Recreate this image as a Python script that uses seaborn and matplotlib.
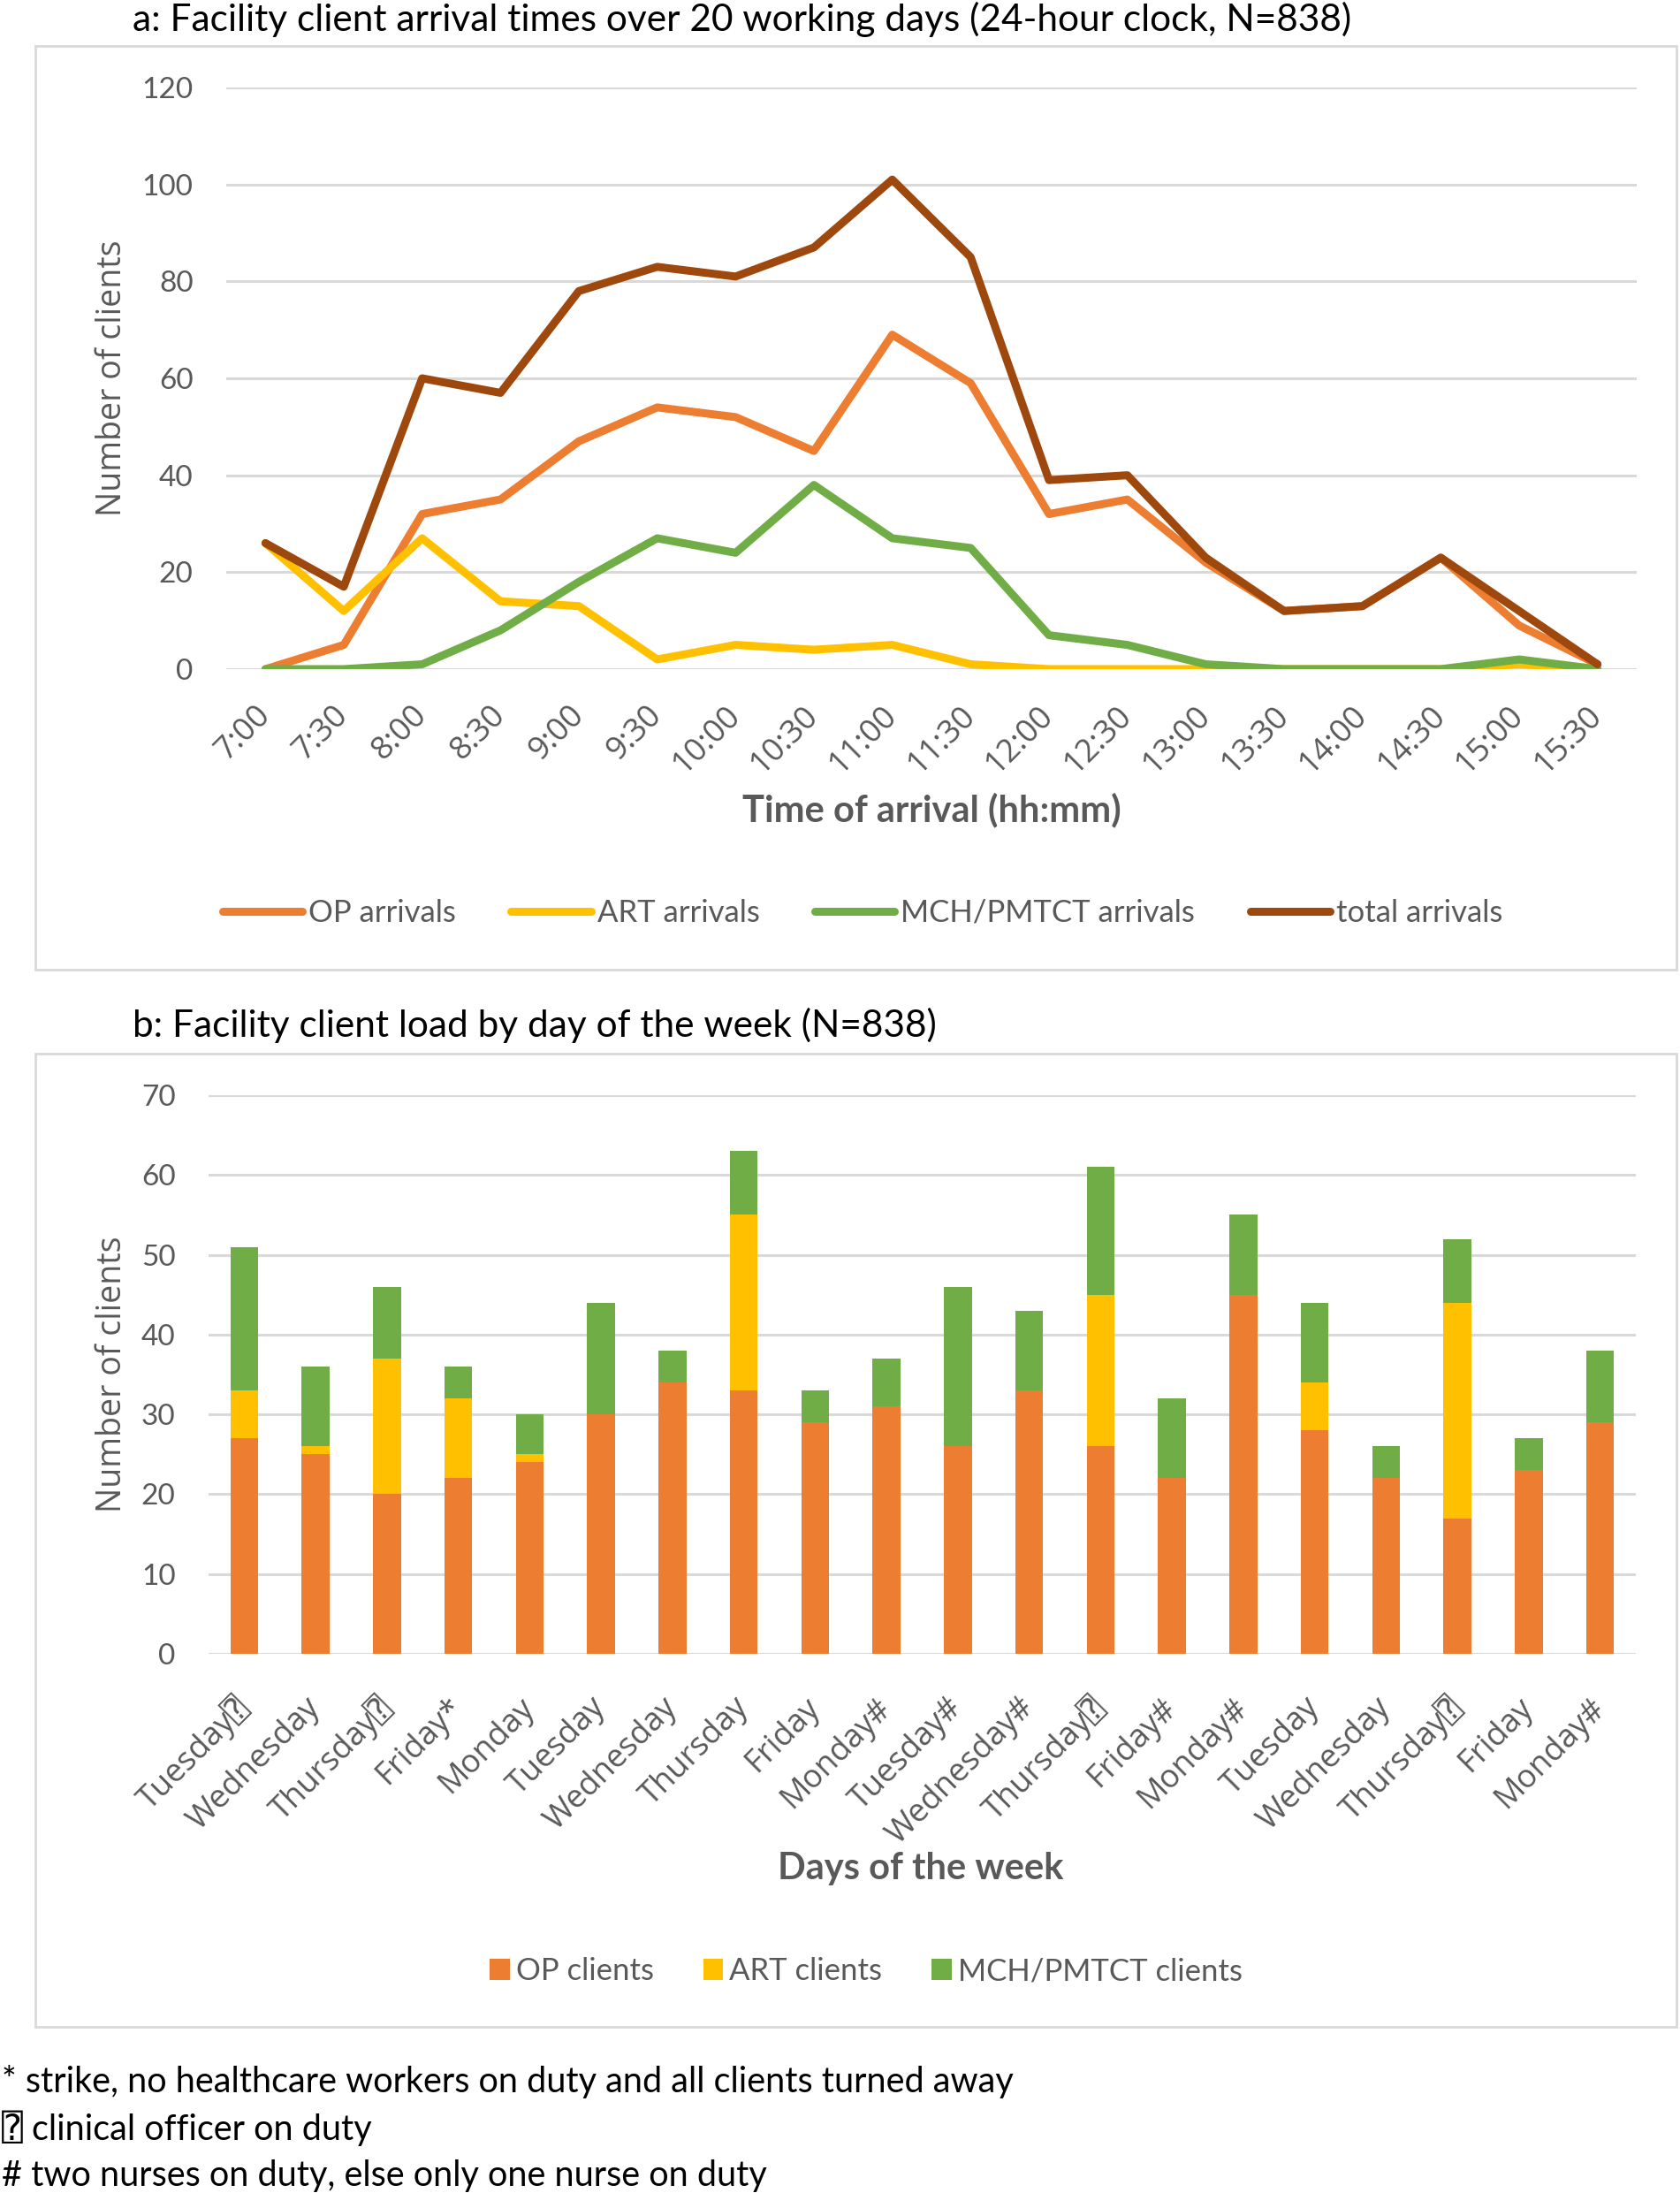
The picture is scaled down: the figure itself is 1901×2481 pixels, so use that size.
import pandas as pd
import matplotlib
matplotlib.use("Agg")
import matplotlib.pyplot as plt
import seaborn as sns
from matplotlib.lines import Line2D
from matplotlib.patches import Patch, Rectangle

# Panel a: arrivals per half hour
times = ['7:00', '7:30', '8:00', '8:30', '9:00', '9:30', '10:00', '10:30', '11:00',
         '11:30', '12:00', '12:30', '13:00', '13:30', '14:00', '14:30', '15:00', '15:30']
op_arrivals = [0, 5, 32, 35, 47, 54, 52, 45, 69, 59, 32, 35, 22, 12, 13, 23, 9, 1]
art_arrivals = [26, 12, 27, 14, 13, 2, 5, 4, 5, 1, 0, 0, 0, 0, 0, 0, 1, 0]
mch_arrivals = [0, 0, 1, 8, 18, 27, 24, 38, 27, 25, 7, 5, 1, 0, 0, 0, 2, 0]
total_arrivals = [26, 17, 60, 57, 78, 83, 81, 87, 101, 85, 39, 40, 23, 12, 13, 23, 12, 1]

# Panel b: clients per working day
days = ['Tuesday⍰', 'Wednesday', 'Thursday⍰', 'Friday*', 'Monday', 'Tuesday', 'Wednesday',
        'Thursday', 'Friday', 'Monday#', 'Tuesday#', 'Wednesday#', 'Thursday⍰', 'Friday#',
        'Monday#', 'Tuesday', 'Wednesday', 'Thursday⍰', 'Friday', 'Monday#']
op_clients = [27, 25, 20, 22, 24, 30, 34, 33, 29, 31, 26, 33, 26, 22, 45, 28, 22, 17, 23, 29]
art_clients = [6, 1, 17, 10, 1, 0, 0, 22, 0, 0, 0, 0, 19, 0, 0, 6, 0, 27, 0, 0]
mch_clients = [18, 10, 9, 4, 5, 14, 4, 8, 4, 6, 20, 10, 16, 10, 10, 10, 4, 8, 4, 9]

line_series = ['OP arrivals', 'ART arrivals', 'MCH/PMTCT arrivals', 'total arrivals']
bar_series = ['OP clients', 'ART clients', 'MCH/PMTCT clients']
orange, yellow, green, brown = '#ED7D31', '#FFC000', '#70AD47', '#9E480E'
GREY = '#595959'
GRID = '#D9D9D9'

sns.set_theme(style='white')
plt.rcParams['font.family'] = ['Lato', 'DejaVu Sans', 'DejaVu Sans Mono']
ROT = ['Open Sans', 'DejaVu Sans', 'DejaVu Sans Mono']

W, H = 1901, 2481
fig = plt.figure(figsize=(W / 100, H / 100), dpi=100)


def fx(px):
    return px / W


def fy(py):
    return 1 - py / H


# chart frames
for top, bottom in [(52, 1097), (1192, 2293)]:
    fig.add_artist(Rectangle((fx(40), fy(bottom)), fx(1897) - fx(40), fy(top) - fy(bottom),
                             transform=fig.transFigure, fill=False, edgecolor=GRID, lw=2))


def style_axes(ax, ylabel, xlabel, pad_x, pad_y):
    sns.despine(ax=ax, left=True, bottom=True)
    ax.yaxis.grid(True, color=GRID, lw=2.2)
    ax.xaxis.grid(False)
    ax.set_axisbelow(True)
    ax.tick_params(axis='both', length=0, colors=GREY)
    ax.tick_params(axis='y', labelsize=24, pad=pad_y)
    ax.tick_params(axis='x', labelsize=26, pad=pad_x)
    for lab in ax.get_xticklabels():
        lab.set_rotation(45)
        lab.set_ha('right')
        lab.set_va('center')
        lab.set_rotation_mode('anchor')
        lab.set_fontfamily(ROT)
    ax.set_ylabel(ylabel, fontsize=27, color=GREY, family=ROT)
    ax.set_xlabel(xlabel, fontsize=30, color=GREY, fontweight='bold')


# ---- panel a ----
ax1 = fig.add_axes([fx(256), fy(757), fx(1852) - fx(256), fy(99) - fy(757)])
arrivals = pd.DataFrame({
    'time': times * 4,
    'clients': op_arrivals + art_arrivals + mch_arrivals + total_arrivals,
    'series': [s for s in line_series for _ in times],
})
line_pal = dict(zip(line_series, [orange, yellow, green, brown]))
sns.lineplot(data=arrivals, x='time', y='clients', hue='series', hue_order=line_series,
             palette=line_pal, sort=False, lw=6.5, legend=False, ax=ax1,
             solid_capstyle='round')
ax1.set_xlim(-0.5, len(times) - 0.5)
ax1.set_ylim(0, 120)
ax1.set_yticks(range(0, 121, 20))
style_axes(ax1, 'Number of clients', 'Time of arrival (hh:mm)', 34, 27)
ax1.yaxis.set_label_coords((146 - 256) / (1852 - 256), 0.5)
ax1.xaxis.set_label_coords((1054 - 256) / (1852 - 256), -(897 - 757) / (757 - 99))

handles = [Line2D([], [], color=line_pal[s], lw=6.5, solid_capstyle='round') for s in line_series]
fig.legend(handles, line_series, loc='center', bbox_to_anchor=(fx(976), fy(1033)), ncol=4,
           frameon=False, fontsize=25, labelcolor=GREY, handlelength=2.6,
           handletextpad=0.2, columnspacing=1.8)

fig.text(fx(150), fy(22), 'a: Facility client arrival times over 20 working days (24-hour clock, N=838)',
         fontsize=30.5, color='black', ha='left', va='center')

# ---- panel b ----
ax2 = fig.add_axes([fx(236), fy(1871), fx(1851) - fx(236), fy(1239) - fy(1871)])
load = pd.DataFrame({
    'slot': list(range(len(days))),
    'op': op_clients,
    'art': art_clients,
    'mch': mch_clients,
})
load['op_art'] = load['op'] + load['art']
load['total'] = load['op_art'] + load['mch']
for col, c in [('total', green), ('op_art', yellow), ('op', orange)]:
    sns.barplot(data=load, x='slot', y=col, color=c, saturation=1, width=0.39,
                linewidth=0, ax=ax2)
ax2.set_xticks(range(len(days)))
ax2.set_xticklabels(days)
ax2.set_xlim(-0.5, len(days) - 0.5)
ax2.set_ylim(0, 70)
ax2.set_yticks(range(0, 71, 10))
style_axes(ax2, 'Number of clients', 'Days of the week', 40, 27)
ax2.yaxis.set_label_coords((146 - 236) / (1851 - 236), 0.5)
ax2.xaxis.set_label_coords((1042 - 236) / (1851 - 236), -(2095 - 1871) / (1871 - 1239))

bar_pal = [orange, yellow, green]
handles = [Patch(facecolor=c, edgecolor='none') for c in bar_pal]
fig.legend(handles, bar_series, loc='center', bbox_to_anchor=(fx(980), fy(2230)), ncol=3,
           frameon=False, fontsize=25, labelcolor=GREY, handlelength=0.66, handleheight=0.66,
           handletextpad=0.2, columnspacing=1.6)

fig.text(fx(150), fy(1160), 'b: Facility client load by day of the week (N=838)',
         fontsize=30.5, color='black', ha='left', va='center')

# footnotes
notes = ['* strike, no healthcare workers on duty and all clients turned away',
         '⍰ clinical officer on duty',
         '# two nurses on duty, else only one nurse on duty']
for y, note in zip([2355, 2408, 2462], notes):
    fig.text(fx(2), fy(y), note, fontsize=28.5, color='black', ha='left', va='center')

fig.savefig('out.png', dpi=100, facecolor='white')
